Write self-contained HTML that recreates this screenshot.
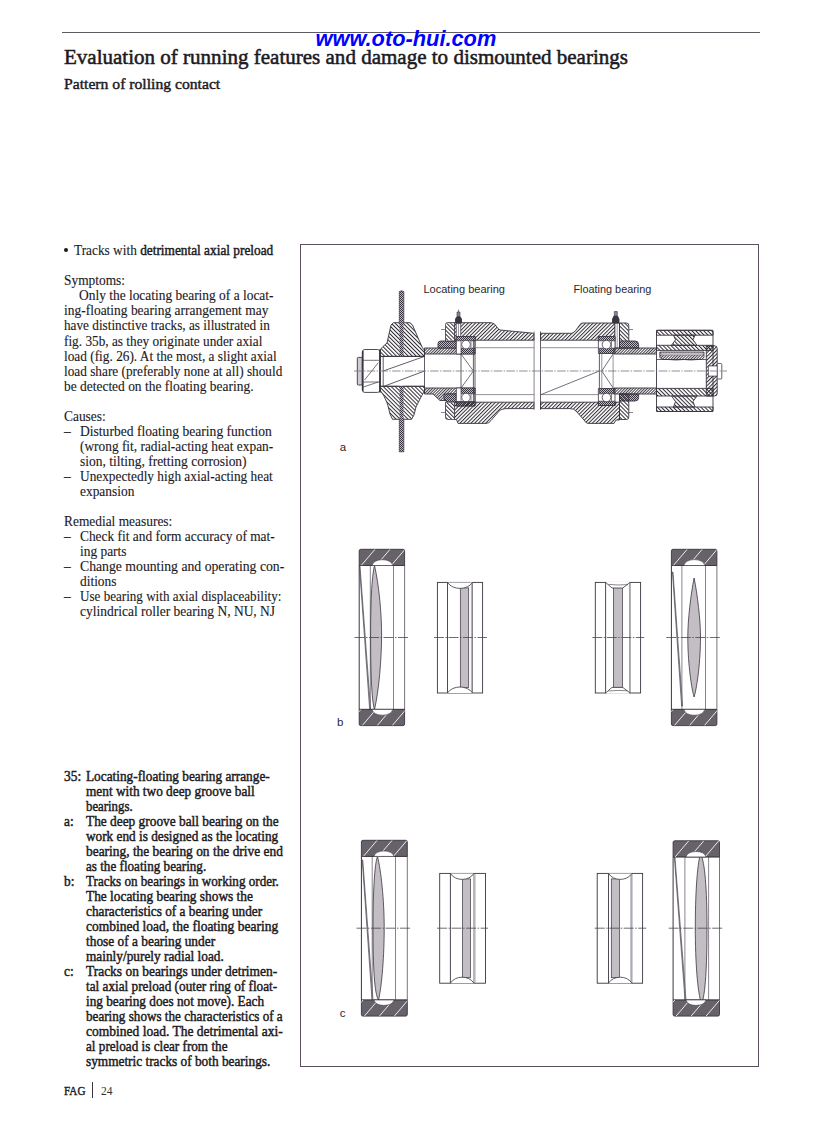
<!DOCTYPE html>
<html><head><meta charset="utf-8"><title>Evaluation of running features</title>
<style>
html,body{margin:0;padding:0;background:#fff;}
body{width:816px;height:1123px;position:relative;overflow:hidden;font-family:"Liberation Serif",serif;color:#1c1a1e;}
.r,.b,.t{position:absolute;white-space:nowrap;line-height:1;transform-origin:0 0;}
.r{font-size:14.0px;}
.r b{font-weight:normal;-webkit-text-stroke:0.45px #1c1a1e;}
.r{-webkit-text-stroke:0.12px #1c1a1e;}
.b{font-size:14.0px;font-weight:normal;-webkit-text-stroke:0.45px #1c1a1e;}
.rule{position:absolute;left:62px;top:32px;width:698px;height:1px;background:#5e5a62;}
.wm{position:absolute;left:315.5px;top:27.85px;font-family:"Liberation Sans",sans-serif;font-weight:bold;font-style:italic;font-size:21.8px;line-height:1;color:#0000ff;white-space:nowrap;}
.box{position:absolute;left:300px;top:244px;width:457px;height:821px;border:1px solid #5a4f60;}
.sans{font-family:"Liberation Sans",sans-serif;}
svg{position:absolute;left:0;top:0;}
</style></head>
<body>
<div class="rule"></div>
<div class="t" style="left:64.3px;top:45.88px;font-size:22px;-webkit-text-stroke:0.55px #1c1a1e;transform:scaleX(0.9556)">Evaluation of running features and damage to dismounted bearings</div>
<div class="t" style="left:64.3px;top:75.62px;font-size:15.5px;-webkit-text-stroke:0.45px #1c1a1e;transform:scaleX(1.011)">Pattern of rolling contact</div>
<div class="box"></div>
<div style="position:absolute;left:64.2px;top:247.9px;width:3.8px;height:3.8px;border-radius:50%;background:#1c1a1e"></div>
<div class="r" style="left:73.8px;top:244.28px;transform:scaleX(0.9515)">Tracks with <b>detrimental axial preload</b></div>
<div class="r" style="left:64.0px;top:274.35px;transform:scaleX(0.957)">Symptoms:</div>
<div class="r" style="left:79.3px;top:289.39px;transform:scaleX(0.9584)">Only the locating bearing of a locat-</div>
<div class="r" style="left:64.0px;top:304.43px;transform:scaleX(0.9612)">ing-floating bearing arrangement may</div>
<div class="r" style="left:64.0px;top:319.47px;transform:scaleX(0.9453)">have distinctive tracks, as illustrated in</div>
<div class="r" style="left:64.0px;top:334.51px;transform:scaleX(0.9485)">fig. 35b, as they originate under axial</div>
<div class="r" style="left:64.0px;top:349.55px;transform:scaleX(0.9509)">load (fig. 26). At the most, a slight axial</div>
<div class="r" style="left:64.0px;top:364.59px;transform:scaleX(0.9486)">load share (preferably none at all) should</div>
<div class="r" style="left:64.0px;top:379.63px;transform:scaleX(0.9596)">be detected on the floating bearing.</div>
<div class="r" style="left:64.0px;top:409.71px;transform:scaleX(0.957)">Causes:</div>
<div class="r" style="left:64.0px;top:424.75px;transform:scaleX(0.957)">–</div>
<div class="r" style="left:79.7px;top:424.75px;transform:scaleX(0.9691)">Disturbed floating bearing function</div>
<div class="r" style="left:79.7px;top:439.79px;transform:scaleX(0.9539)">(wrong fit, radial-acting heat expan-</div>
<div class="r" style="left:79.7px;top:454.83px;transform:scaleX(0.9628)">sion, tilting, fretting corrosion)</div>
<div class="r" style="left:64.0px;top:469.88px;transform:scaleX(0.957)">–</div>
<div class="r" style="left:79.7px;top:469.88px;transform:scaleX(0.9520)">Unexpectedly high axial-acting heat</div>
<div class="r" style="left:79.7px;top:484.91px;transform:scaleX(0.957)">expansion</div>
<div class="r" style="left:64.0px;top:515.00px;transform:scaleX(0.957)">Remedial measures:</div>
<div class="r" style="left:64.0px;top:530.03px;transform:scaleX(0.957)">–</div>
<div class="r" style="left:79.7px;top:530.03px;transform:scaleX(0.9559)">Check fit and form accuracy of mat-</div>
<div class="r" style="left:79.7px;top:545.07px;transform:scaleX(0.957)">ing parts</div>
<div class="r" style="left:64.0px;top:560.11px;transform:scaleX(0.957)">–</div>
<div class="r" style="left:79.7px;top:560.11px;transform:scaleX(0.9803)">Change mounting and operating con-</div>
<div class="r" style="left:79.7px;top:575.15px;transform:scaleX(0.957)">ditions</div>
<div class="r" style="left:64.0px;top:590.19px;transform:scaleX(0.957)">–</div>
<div class="r" style="left:79.7px;top:590.19px;transform:scaleX(0.9350)">Use bearing with axial displaceability:</div>
<div class="r" style="left:79.7px;top:605.24px;transform:scaleX(0.9632)">cylindrical roller bearing N, NU, NJ</div>
<div class="b" style="left:64.0px;top:769.57px;transform:scaleX(0.957)">35:</div>
<div class="b" style="left:85.8px;top:769.57px;transform:scaleX(0.9490)">Locating-floating bearing arrange-</div>
<div class="b" style="left:85.8px;top:784.57px;transform:scaleX(0.9494)">ment with two deep groove ball</div>
<div class="b" style="left:85.8px;top:799.57px;transform:scaleX(0.9148)">bearings.</div>
<div class="b" style="left:64.0px;top:814.57px;transform:scaleX(0.957)">a:</div>
<div class="b" style="left:85.8px;top:814.57px;transform:scaleX(0.9532)">The deep groove ball bearing on the</div>
<div class="b" style="left:85.8px;top:829.57px;transform:scaleX(0.9470)">work end is designed as the locating</div>
<div class="b" style="left:85.8px;top:844.57px;transform:scaleX(0.9574)">bearing, the bearing on the drive end</div>
<div class="b" style="left:85.8px;top:859.57px;transform:scaleX(0.9369)">as the floating bearing.</div>
<div class="b" style="left:64.0px;top:874.57px;transform:scaleX(0.957)">b:</div>
<div class="b" style="left:85.8px;top:874.57px;transform:scaleX(0.9348)">Tracks on bearings in working order.</div>
<div class="b" style="left:85.8px;top:889.57px;transform:scaleX(0.9540)">The locating bearing shows the</div>
<div class="b" style="left:85.8px;top:904.57px;transform:scaleX(0.9478)">characteristics of a bearing under</div>
<div class="b" style="left:85.8px;top:919.57px;transform:scaleX(0.9636)">combined load, the floating bearing</div>
<div class="b" style="left:85.8px;top:934.57px;transform:scaleX(0.9542)">those of a bearing under</div>
<div class="b" style="left:85.8px;top:949.57px;transform:scaleX(0.9502)">mainly/purely radial load.</div>
<div class="b" style="left:64.0px;top:964.57px;transform:scaleX(0.957)">c:</div>
<div class="b" style="left:85.8px;top:964.57px;transform:scaleX(0.9592)">Tracks on bearings under detrimen-</div>
<div class="b" style="left:85.8px;top:979.57px;transform:scaleX(0.9459)">tal axial preload (outer ring of float-</div>
<div class="b" style="left:85.8px;top:994.57px;transform:scaleX(0.9465)">ing bearing does not move). Each</div>
<div class="b" style="left:85.8px;top:1009.57px;transform:scaleX(0.9388)">bearing shows the characteristics of a</div>
<div class="b" style="left:85.8px;top:1024.58px;transform:scaleX(0.9650)">combined load. The detrimental axi-</div>
<div class="b" style="left:85.8px;top:1039.58px;transform:scaleX(0.9406)">al preload is clear from the</div>
<div class="b" style="left:85.8px;top:1054.58px;transform:scaleX(0.9499)">symmetric tracks of both bearings.</div>
<div class="t" style="left:64px;top:1084.31px;font-size:13px;-webkit-text-stroke:0.4px #1c1a1e;transform:scaleX(0.856)">FAG</div>
<div style="position:absolute;left:92px;top:1081.5px;width:1px;height:16px;background:#3a3440"></div>
<div class="t" style="left:100.5px;top:1084.31px;font-size:13px;color:#333;transform:scaleX(0.885)">24</div>
<svg width="816" height="1123" viewBox="0 0 816 1123" style="position:absolute;left:0;top:0">
<defs>
<pattern id="hs" width="2.6" height="2.6" patternUnits="userSpaceOnUse" patternTransform="rotate(45)"><rect x="0" y="0" width="1.0" height="2.6" fill="#2e2a32"/></pattern>
<pattern id="hb" width="2.8" height="2.8" patternUnits="userSpaceOnUse" patternTransform="rotate(-45)"><rect x="0" y="0" width="1.0" height="2.8" fill="#2e2a32"/></pattern>
<pattern id="hf" width="2.0" height="2.0" patternUnits="userSpaceOnUse" patternTransform="rotate(45)"><rect x="0" y="0" width="0.9" height="2.0" fill="#2e2a32"/></pattern>
<pattern id="hx" width="2" height="2" patternUnits="userSpaceOnUse"><rect width="2" height="2" fill="#bdb9c0"/><rect width="1" height="1" fill="#3a3440"/><rect x="1" y="1" width="1" height="1" fill="#3a3440"/></pattern>
</defs>
<g id="figA" stroke="#3a3440" stroke-width="0.9" stroke-linejoin="round">
<!-- left pulley hub -->
<path d="M380,356.4 L380,350 L383,346.5 L387,343 L391,325 L393.5,322.7 L410,322.7 L412.5,325 L422,347 L424.5,350.5 L424.5,356.4 Z" fill="url(#hb)"/>
<path d="M380,386.3 L380,390 L384,396 L387.5,404 L390,414 L392.5,419.3 L411.5,419.3 L414,415 L416,407 L421,397 L424.5,391 L424.5,386.3 Z" fill="url(#hb)"/>
<!-- disc -->
<rect x="399.4" y="356.4" width="4" height="29.9" fill="#fff" stroke="none"/>
<path d="M399.3,322.7 L399.3,291.5 L401.5,290.7 L403.8,291.5 L403.8,322.7" fill="url(#hx)" stroke-width="0.7"/>
<rect x="399.6" y="322.7" width="3.9" height="33.7" fill="url(#hx)" stroke="none"/>
<rect x="399.6" y="386.3" width="3.9" height="33" fill="url(#hx)" stroke="none"/>
<path d="M399.3,419.3 L399.3,451.8 L403.8,451.8 L403.8,419.3" fill="url(#hx)" stroke-width="0.7"/>
<!-- nut & bolt plate -->
<rect x="357.3" y="357.4" width="5" height="27.6" rx="1" fill="#cfccd2"/>
<rect x="362.3" y="349.5" width="17.7" height="42.9" rx="2.5" fill="#fff"/>
<line x1="362.3" y1="360.3" x2="380" y2="360.3" stroke-width="0.7"/>
<line x1="362.3" y1="382" x2="380" y2="382" stroke-width="0.7"/>
<line x1="364.6" y1="380" x2="378.3" y2="362.7" stroke-width="0.7"/>
<line x1="363.5" y1="387" x2="378.3" y2="382" stroke-width="0.7"/>
<line x1="362.8" y1="351" x2="362.8" y2="391" stroke-width="1.6"/>
<line x1="380" y1="349.5" x2="380" y2="392.4" stroke-width="1.8"/>
<!-- shaft in hub -->
<line x1="380" y1="356.4" x2="424.5" y2="356.4"/>
<line x1="380" y1="386.3" x2="424.5" y2="386.3"/>
<line x1="383.2" y1="356.4" x2="383.2" y2="386.3" stroke-width="0.8"/>
<line x1="383.2" y1="371" x2="424.5" y2="356.4" stroke-width="0.8"/>
<line x1="384" y1="386.3" x2="424.5" y2="371" stroke-width="0.8"/>
<!-- sleeves locating side -->
<rect x="424.5" y="348" width="36.5" height="6" fill="url(#hf)"/>
<path d="M424.5,388 L461,388 L461,394 L447,394 L447,400.5 L440,400.5 L433,394 L424.5,394 Z" fill="url(#hf)"/>
<line x1="424.5" y1="348" x2="424.5" y2="394" stroke-width="0.8"/>
<!-- seals locating -->
<path d="M438,348 L438,343.5 Q438,341 441,341 L456.3,341 L456.3,348 Z" fill="url(#hx)"/>
<path d="M444,394 L456.3,394 L456.3,402.2 L447,402.2 L444,399 Z" fill="url(#hx)"/>
<!-- locating housing upper -->
<path d="M445.5,341 L445.5,324.5 Q445.5,322.7 447.5,322.7 L491.5,322.7 Q495,323.2 497.5,328 L500,330 L534,333.3 L534,340.2 L475,340.2 L475,336.5 L456.3,336.5 L456.3,341 Z" fill="url(#hs)"/>
<rect x="445.9" y="323.2" width="8.6" height="17.4" fill="#fff" stroke="none"/><rect x="445.9" y="323.2" width="8.6" height="17.4" fill="url(#hb)" stroke="none"/>
<line x1="454.5" y1="323" x2="454.5" y2="341" stroke-width="0.8"/>
<!-- grease nipple locating -->
<rect x="456.3" y="323.2" width="4.4" height="13.3" fill="#fff" stroke-width="0.7"/>
<line x1="458.5" y1="323.2" x2="458.5" y2="336.5" stroke-width="0.5"/>
<path d="M455.5,323 L455.5,319 L457,316.5 L460,316.5 L461.5,319 L461.5,323 Z" fill="#3a3440"/>
<rect x="457" y="312" width="3" height="4.5" fill="#8a8590" stroke-width="0.6"/>
<line x1="458.5" y1="309.5" x2="458.5" y2="312" stroke-width="0.6"/>
<line x1="441" y1="329.5" x2="445.5" y2="329.5" stroke-width="0.6"/>
<!-- locating bearing -->
<rect x="456.3" y="336.5" width="18.7" height="17.5" fill="#fff" stroke-width="0.8"/>
<rect x="456.3" y="336.5" width="18.7" height="4.3" fill="url(#hx)" stroke-width="0.7"/>
<rect x="461" y="348.2" width="14" height="5.8" fill="url(#hx)" stroke-width="0.7"/>
<line x1="461" y1="340.8" x2="461" y2="348.2" stroke-width="0.6"/>
<line x1="471" y1="340.8" x2="471" y2="348.2" stroke-width="0.6"/>
<circle cx="466" cy="344.6" r="4.3" fill="#fff" stroke-width="0.8"/>
<rect x="456.3" y="388" width="18.7" height="18" fill="#fff" stroke-width="0.8"/>
<rect x="461" y="388" width="14" height="5.8" fill="url(#hx)" stroke-width="0.7"/>
<rect x="456.3" y="401.5" width="18.7" height="4.5" fill="url(#hx)" stroke-width="0.7"/>
<line x1="461" y1="393.8" x2="461" y2="401.5" stroke-width="0.6"/>
<line x1="471" y1="393.8" x2="471" y2="401.5" stroke-width="0.6"/>
<circle cx="466" cy="397.5" r="4.3" fill="#fff" stroke-width="0.8"/>
<!-- locating housing lower -->
<path d="M445.5,402.2 L534,402.2 L534,408.6 L505,408.6 Q499.5,409 497.5,413 L491,420.5 Q489,423.4 486,423.4 L458,423.4 L456.5,419.5 L447.5,419.5 Q445.5,419.5 445.5,417.5 Z" fill="url(#hs)"/>
<rect x="445.9" y="402.6" width="8.6" height="16.6" fill="#fff" stroke="none"/><rect x="445.9" y="402.6" width="8.6" height="16.6" fill="url(#hb)" stroke="none"/>
<line x1="454.5" y1="402.2" x2="454.5" y2="419.5" stroke-width="0.8"/>
<line x1="441" y1="412.5" x2="445.5" y2="412.5" stroke-width="0.6"/>
<!-- shaft lines through bearing -->
<line x1="461" y1="354" x2="461" y2="388" stroke-width="0.8"/>
<line x1="473.4" y1="340.2" x2="473.4" y2="402.2" stroke-width="0.8"/>
<line x1="475" y1="340.2" x2="475" y2="402.2" stroke-width="0.8"/>
<polyline points="461,354 473.4,371 461,388" fill="none" stroke-width="0.7"/>
<line x1="475" y1="347.7" x2="534" y2="347.7" stroke="#7a7480" stroke-width="0.8"/>
<line x1="475" y1="394.6" x2="534" y2="394.6" stroke="#7a7480" stroke-width="0.8"/>
<!-- break -->
<line x1="534.1" y1="331.4" x2="534.1" y2="409.9" stroke="#6a6470" stroke-width="0.8"/>
<line x1="540.5" y1="331.4" x2="540.5" y2="409.9" stroke-width="0.8"/>
<!-- floating side shaft lines -->
<line x1="540.5" y1="347.7" x2="599.4" y2="347.7" stroke="#7a7480" stroke-width="0.8"/>
<line x1="540.5" y1="394.6" x2="599.4" y2="394.6" stroke="#7a7480" stroke-width="0.8"/>
<line x1="541" y1="394.6" x2="599.4" y2="371" stroke-width="0.7"/>
<!-- floating housing upper -->
<path d="M540.5,333.3 L572,333.3 Q575.5,332 577.5,328 L580,324.5 Q581,323 583,323 L615,323 L615,336.5 L598.4,336.5 L598.4,340.2 L540.5,340.2 Z" fill="url(#hs)"/>
<rect x="615" y="323" width="4.5" height="25" fill="#fff" stroke-width="0.7"/>
<line x1="617.2" y1="323" x2="617.2" y2="348" stroke-width="0.5"/>
<path d="M619.5,323 L626.5,323 Q628.8,323 628.8,325.5 L628.8,348 L619.5,348 Z" fill="url(#hb)"/>
<path d="M612.5,323 L612.5,319 L614,316 L617.5,316 L619,319 L619,323 Z" fill="#3a3440"/>
<rect x="614.3" y="311.5" width="3" height="4.5" fill="#8a8590" stroke-width="0.6"/>
<line x1="628.8" y1="329.5" x2="633" y2="329.5" stroke-width="0.6"/>
<!-- floating bearing -->
<rect x="598.4" y="336.5" width="16.6" height="17" fill="#fff" stroke-width="0.8"/>
<rect x="598.4" y="336.5" width="16.6" height="4.3" fill="url(#hx)" stroke-width="0.7"/>
<rect x="599.4" y="348.2" width="14.6" height="5.3" fill="url(#hx)" stroke-width="0.7"/>
<line x1="611.5" y1="340.8" x2="611.5" y2="348.2" stroke-width="0.6"/>
<circle cx="606.5" cy="344.6" r="4.3" fill="#fff" stroke-width="0.8"/>
<rect x="598.4" y="388.5" width="16.6" height="17" fill="#fff" stroke-width="0.8"/>
<rect x="599.4" y="388.5" width="14.6" height="5.3" fill="url(#hx)" stroke-width="0.7"/>
<rect x="598.4" y="401.2" width="16.6" height="4.3" fill="url(#hx)" stroke-width="0.7"/>
<line x1="611.5" y1="393.8" x2="611.5" y2="401.2" stroke-width="0.6"/>
<circle cx="606.5" cy="397.5" r="4.3" fill="#fff" stroke-width="0.8"/>
<path d="M619.5,341 L635,341 Q638.6,341 638.6,344.5 L638.6,348 L619.5,348 Z" fill="url(#hx)"/>
<path d="M619.5,394 L638.6,394 L638.6,397.5 Q638.6,401 635,401 L619.5,401 Z" fill="url(#hx)"/>
<!-- floating housing lower -->
<path d="M540.5,402.2 L598.4,402.2 L598.4,405.5 L615,405.5 L615,402.2 L619.5,402.2 L619.5,420 L616,420 L614,423.4 L588,423.4 Q585.5,423 584,420 L576,411 Q574,408.6 570,408.6 L540.5,408.6 Z" fill="url(#hs)"/>
<path d="M619.5,394 L628.8,394 L628.8,417 Q628.8,419.5 626.5,419.5 L619.5,419.5 Z" fill="url(#hb)"/>
<line x1="628.8" y1="412.5" x2="633" y2="412.5" stroke-width="0.6"/>
<!-- floating shaft lines -->
<line x1="599.4" y1="353.5" x2="599.4" y2="388.5" stroke-width="0.8"/>
<line x1="601.8" y1="353.5" x2="601.8" y2="388.5" stroke="#6a6470" stroke-width="0.7"/>
<line x1="613.1" y1="353.5" x2="613.1" y2="388.5" stroke="#6a6470" stroke-width="0.7"/>
<polyline points="613.1,354 601.8,371 613.1,388" fill="none" stroke-width="0.7"/>
<!-- sleeves floating side -->
<rect x="614" y="348" width="42.5" height="6" fill="url(#hf)"/>
<rect x="614" y="388" width="42.5" height="6" fill="url(#hf)"/>
<!-- right pulley -->
<rect x="656.5" y="330.3" width="56.5" height="81.2" rx="2" fill="#fff"/>
<rect x="656.5" y="330.3" width="56.5" height="4.9" fill="url(#hb)"/>
<path d="M673.5,335.2 L695,335.2 L693,339.8 L697,345.3 L671.5,345.3 L675.5,339.8 Z" fill="url(#hb)"/>
<rect x="656.5" y="345.3" width="56.5" height="5.1" fill="url(#hb)"/>
<path d="M659.8,352 L704,352 L704,357.5 Q702,360.2 698,359.5 Q690,360.5 684,359.5 Q676,360.5 668,359.5 Q662,360.5 659.8,357.5 Z" fill="url(#hf)" stroke-width="0.8"/>
<rect x="661" y="352.6" width="42" height="2.6" fill="#c9c5cc" stroke="#6a6470" stroke-width="0.5"/>
<rect x="656.5" y="388.4" width="56.5" height="7.6" fill="url(#hb)"/>
<path d="M671.5,396 L697,396 L693,401.5 L695,407 L673.5,407 L675.5,401.5 Z" fill="url(#hb)"/>
<rect x="656.5" y="407" width="56.5" height="4.5" fill="url(#hb)"/>
<line x1="656.5" y1="359.5" x2="706.3" y2="359.5" stroke-width="0.8"/>
<!-- end cap + bolt -->
<path d="M706.3,345.8 L714.5,345.8 Q717.2,345.8 717.2,348.5 L717.2,393.5 Q717.2,396 714.5,396 L706.3,396 Z" fill="url(#hs)"/>
<rect x="717.2" y="363.5" width="4.6" height="15.5" rx="1" fill="#fff" stroke-width="0.8"/>
<line x1="708" y1="366" x2="717.2" y2="366" stroke-width="0.6"/>
<line x1="708" y1="376" x2="717.2" y2="376" stroke-width="0.6"/>
<rect x="708.5" y="366" width="8.7" height="10" fill="#fff" stroke-width="0.6"/>
<!-- centre line -->
<line x1="354" y1="371" x2="727" y2="371" stroke="#7e7884" stroke-width="0.85" stroke-dasharray="8.5,1.4,1.4,1.4"/>
</g>

<line x1="359.2" y1="565.5" x2="359.2" y2="709.4" stroke="#3a3440" stroke-width="1"/>
<line x1="404.6" y1="565.5" x2="404.6" y2="709.4" stroke="#6a6470" stroke-width="0.9"/>
<line x1="370.3" y1="565.5" x2="370.3" y2="709.4" stroke="#6a6470" stroke-width="0.8"/>
<line x1="393.5" y1="565.5" x2="393.5" y2="709.4" stroke="#6a6470" stroke-width="0.8"/>
<line x1="359.2" y1="565.5" x2="404.6" y2="565.5" stroke="#3a3440" stroke-width="0.8"/>
<line x1="359.2" y1="709.4" x2="404.6" y2="709.4" stroke="#3a3440" stroke-width="0.8"/>
<path d="M359.4,566 L369.6,709 L370.6,709 L360.0,566 Z" fill="#b8b5ba" stroke="#3a3440" stroke-width="0.6"/>
<path d="M374.5,565.5 C379,585 381.8,615 381.6,637 C381.4,660 379,690 374.5,709.5 C371.5,700 370.6,670 370.6,637 C370.6,605 371.5,578 374.5,565.5 Z" fill="#c2bec4" stroke="#3a3440" stroke-width="0.8"/>
<clipPath id="clipblt"><path d="M359.2,565.5 L359.2,550.9 Q359.2,549.3 360.8,549.3 L403.0,549.3 Q404.6,549.3 404.6,550.9 L404.6,565.5 Z"/></clipPath>
<path d="M359.2,565.5 L359.2,550.9 Q359.2,549.3 360.8,549.3 L403.0,549.3 Q404.6,549.3 404.6,550.9 L404.6,565.5 Z" fill="#67616a" stroke="#3a3440" stroke-width="0.9"/>
<line x1="361.2" y1="565.5" x2="375.0" y2="549.3" stroke="#eceaee" stroke-width="1" clip-path="url(#clipblt)"/>
<line x1="376.2" y1="565.5" x2="390.0" y2="549.3" stroke="#eceaee" stroke-width="1" clip-path="url(#clipblt)"/>
<line x1="391.2" y1="565.5" x2="405.0" y2="549.3" stroke="#eceaee" stroke-width="1" clip-path="url(#clipblt)"/>
<line x1="406.2" y1="565.5" x2="420.0" y2="549.3" stroke="#eceaee" stroke-width="1" clip-path="url(#clipblt)"/>
<path d="M372.0,565.5 C373.248,557.77 391.552,557.77 392.8,565.5 Z" fill="#fff" stroke="#3a3440" stroke-width="0.6"/>
<clipPath id="clipblb"><path d="M359.2,709.4 L359.2,724.0 Q359.2,725.6 360.8,725.6 L403.0,725.6 Q404.6,725.6 404.6,724.0 L404.6,709.4 Z"/></clipPath>
<path d="M359.2,709.4 L359.2,724.0 Q359.2,725.6 360.8,725.6 L403.0,725.6 Q404.6,725.6 404.6,724.0 L404.6,709.4 Z" fill="#67616a" stroke="#3a3440" stroke-width="0.9"/>
<line x1="347.2" y1="725.6" x2="361.0" y2="709.4" stroke="#eceaee" stroke-width="1" clip-path="url(#clipblb)"/>
<line x1="362.2" y1="725.6" x2="376.0" y2="709.4" stroke="#eceaee" stroke-width="1" clip-path="url(#clipblb)"/>
<line x1="377.2" y1="725.6" x2="391.0" y2="709.4" stroke="#eceaee" stroke-width="1" clip-path="url(#clipblb)"/>
<line x1="392.2" y1="725.6" x2="406.0" y2="709.4" stroke="#eceaee" stroke-width="1" clip-path="url(#clipblb)"/>
<path d="M372.0,709.4 C373.248,717.13 391.552,717.13 392.8,709.4 Z" fill="#fff" stroke="#3a3440" stroke-width="0.6"/>
<line x1="354.5" y1="637.5" x2="408.4" y2="637.5" stroke="#4a4450" stroke-width="0.8" stroke-dasharray="10,1.5,1.5,1.5"/>
<rect x="437.4" y="582.4" width="45.200000000000045" height="110.60000000000002" fill="#fff" stroke="#3a3440" stroke-width="0.9"/>
<line x1="447.5" y1="582.4" x2="447.5" y2="693.0" stroke="#3a3440" stroke-width="0.9"/>
<line x1="472.5" y1="582.4" x2="472.5" y2="693.0" stroke="#6a6470" stroke-width="0.8"/>
<line x1="471.4" y1="582.4" x2="471.4" y2="693.0" stroke="#8a8590" stroke-width="0.7"/>
<rect x="460.3" y="587.9" width="8.399999999999977" height="99.60000000000002" fill="#c2bec4" stroke="#3a3440" stroke-width="0.7"/>
<path d="M447.5,582.4 C452.5,590.398 467.5,590.398 472.5,582.4" fill="#fff" stroke="#3a3440" stroke-width="0.8"/>
<path d="M447.5,693.0 C452.5,685.002 467.5,685.002 472.5,693.0" fill="#fff" stroke="#3a3440" stroke-width="0.8"/>
<line x1="434" y1="637.5" x2="487" y2="637.5" stroke="#4a4450" stroke-width="0.8" stroke-dasharray="10,1.5,1.5,1.5"/>
<rect x="595.3" y="582.4" width="45.30000000000007" height="110.60000000000002" fill="#fff" stroke="#3a3440" stroke-width="0.9"/>
<line x1="605.6" y1="582.4" x2="605.6" y2="693.0" stroke="#3a3440" stroke-width="0.9"/>
<line x1="630.1" y1="582.4" x2="630.1" y2="693.0" stroke="#6a6470" stroke-width="0.8"/>
<line x1="629.6" y1="582.4" x2="629.6" y2="693.0" stroke="#8a8590" stroke-width="0.7"/>
<rect x="613.4" y="587.5" width="9.0" height="100.40000000000002" fill="#c2bec4" stroke="#3a3440" stroke-width="0.7"/>
<line x1="606.2" y1="582.4" x2="629.5" y2="582.4" stroke="#fff" stroke-width="1.4"/>
<line x1="606.2" y1="693.0" x2="629.5" y2="693.0" stroke="#fff" stroke-width="1.4"/>
<path d="M605.6,582.4 L611.97,588.0 L622.75,588.0 L630.1,582.4" fill="#fff" stroke="#3a3440" stroke-width="0.8"/>
<path d="M608.5400000000001,584.36 Q617.85,585.48 627.65,584.64" fill="none" stroke="#3a3440" stroke-width="0.6"/>
<path d="M605.6,693.0 L611.97,687.4 L622.75,687.4 L630.1,693.0" fill="#fff" stroke="#3a3440" stroke-width="0.8"/>
<path d="M608.5400000000001,691.04 Q617.85,689.92 627.65,690.76" fill="none" stroke="#3a3440" stroke-width="0.6"/>
<line x1="592.3" y1="637.5" x2="644.2" y2="637.5" stroke="#4a4450" stroke-width="0.8" stroke-dasharray="10,1.5,1.5,1.5"/>
<line x1="671.4" y1="565.5" x2="671.4" y2="709.4" stroke="#3a3440" stroke-width="1"/>
<line x1="716.9" y1="565.5" x2="716.9" y2="709.4" stroke="#6a6470" stroke-width="0.9"/>
<line x1="681.9" y1="565.5" x2="681.9" y2="709.4" stroke="#6a6470" stroke-width="0.8"/>
<line x1="705.5" y1="565.5" x2="705.5" y2="709.4" stroke="#6a6470" stroke-width="0.8"/>
<line x1="671.4" y1="565.5" x2="716.9" y2="565.5" stroke="#3a3440" stroke-width="0.8"/>
<line x1="671.4" y1="709.4" x2="716.9" y2="709.4" stroke="#3a3440" stroke-width="0.8"/>
<path d="M672.4,572 L681.6,706 L682.6,706 L673.0,572 Z" fill="#b8b5ba" stroke="#3a3440" stroke-width="0.6"/>
<path d="M694.1,578 C697.5,595 700.5,620 700.5,637 C700.5,660 697.5,685 694.1,697 C690.7,685 687.8,660 687.8,637 C687.8,620 690.7,595 694.1,578 Z" fill="#c2bec4" stroke="#3a3440" stroke-width="0.8"/>
<clipPath id="clipbrt"><path d="M671.4,565.5 L671.4,550.9 Q671.4,549.3 673.0,549.3 L715.3,549.3 Q716.9,549.3 716.9,550.9 L716.9,565.5 Z"/></clipPath>
<path d="M671.4,565.5 L671.4,550.9 Q671.4,549.3 673.0,549.3 L715.3,549.3 Q716.9,549.3 716.9,550.9 L716.9,565.5 Z" fill="#67616a" stroke="#3a3440" stroke-width="0.9"/>
<line x1="673.4" y1="565.5" x2="687.2" y2="549.3" stroke="#eceaee" stroke-width="1" clip-path="url(#clipbrt)"/>
<line x1="688.4" y1="565.5" x2="702.2" y2="549.3" stroke="#eceaee" stroke-width="1" clip-path="url(#clipbrt)"/>
<line x1="703.4" y1="565.5" x2="717.2" y2="549.3" stroke="#eceaee" stroke-width="1" clip-path="url(#clipbrt)"/>
<line x1="718.4" y1="565.5" x2="732.2" y2="549.3" stroke="#eceaee" stroke-width="1" clip-path="url(#clipbrt)"/>
<path d="M683.9,565.5 C685.154,557.64 703.5459999999999,557.64 704.8,565.5 Z" fill="#fff" stroke="#3a3440" stroke-width="0.6"/>
<clipPath id="clipbrb"><path d="M671.4,709.4 L671.4,724.0 Q671.4,725.6 673.0,725.6 L715.3,725.6 Q716.9,725.6 716.9,724.0 L716.9,709.4 Z"/></clipPath>
<path d="M671.4,709.4 L671.4,724.0 Q671.4,725.6 673.0,725.6 L715.3,725.6 Q716.9,725.6 716.9,724.0 L716.9,709.4 Z" fill="#67616a" stroke="#3a3440" stroke-width="0.9"/>
<line x1="659.4" y1="725.6" x2="673.2" y2="709.4" stroke="#eceaee" stroke-width="1" clip-path="url(#clipbrb)"/>
<line x1="674.4" y1="725.6" x2="688.2" y2="709.4" stroke="#eceaee" stroke-width="1" clip-path="url(#clipbrb)"/>
<line x1="689.4" y1="725.6" x2="703.2" y2="709.4" stroke="#eceaee" stroke-width="1" clip-path="url(#clipbrb)"/>
<line x1="704.4" y1="725.6" x2="718.2" y2="709.4" stroke="#eceaee" stroke-width="1" clip-path="url(#clipbrb)"/>
<path d="M683.9,709.4 C685.154,717.26 703.5459999999999,717.26 704.8,709.4 Z" fill="#fff" stroke="#3a3440" stroke-width="0.6"/>
<line x1="666.3" y1="637.5" x2="720.9" y2="637.5" stroke="#4a4450" stroke-width="0.8" stroke-dasharray="10,1.5,1.5,1.5"/>
<line x1="361.4" y1="856.4" x2="361.4" y2="1000.0" stroke="#3a3440" stroke-width="1"/>
<line x1="407.3" y1="856.4" x2="407.3" y2="1000.0" stroke="#6a6470" stroke-width="0.9"/>
<line x1="372.2" y1="856.4" x2="372.2" y2="1000.0" stroke="#6a6470" stroke-width="0.8"/>
<line x1="395.5" y1="856.4" x2="395.5" y2="1000.0" stroke="#6a6470" stroke-width="0.8"/>
<line x1="361.4" y1="856.4" x2="407.3" y2="856.4" stroke="#3a3440" stroke-width="0.8"/>
<line x1="361.4" y1="1000.0" x2="407.3" y2="1000.0" stroke="#3a3440" stroke-width="0.8"/>
<path d="M362.2,860 L372.0,1000 L373.0,1000 L362.8,860 Z" fill="#b8b5ba" stroke="#3a3440" stroke-width="0.6"/>
<path d="M377.5,856.5 C381,870 384.2,900 384.2,928 C384.2,955 382,985 378.5,1000 C374.5,994 373,968 373,928 C373,892 374.5,864 377.5,856.5 Z" fill="#c2bec4" stroke="#3a3440" stroke-width="0.8"/>
<clipPath id="clipclt"><path d="M361.4,856.4 L361.4,841.9 Q361.4,840.3 363.0,840.3 L405.7,840.3 Q407.3,840.3 407.3,841.9 L407.3,856.4 Z"/></clipPath>
<path d="M361.4,856.4 L361.4,841.9 Q361.4,840.3 363.0,840.3 L405.7,840.3 Q407.3,840.3 407.3,841.9 L407.3,856.4 Z" fill="#67616a" stroke="#3a3440" stroke-width="0.9"/>
<line x1="363.4" y1="856.4" x2="377.1" y2="840.3" stroke="#eceaee" stroke-width="1" clip-path="url(#clipclt)"/>
<line x1="378.4" y1="856.4" x2="392.1" y2="840.3" stroke="#eceaee" stroke-width="1" clip-path="url(#clipclt)"/>
<line x1="393.4" y1="856.4" x2="407.1" y2="840.3" stroke="#eceaee" stroke-width="1" clip-path="url(#clipclt)"/>
<line x1="408.4" y1="856.4" x2="422.1" y2="840.3" stroke="#eceaee" stroke-width="1" clip-path="url(#clipclt)"/>
<path d="M373.9,856.4 C375.106,849.20 392.794,849.20 394.0,856.4 Z" fill="#fff" stroke="#3a3440" stroke-width="0.6"/>
<clipPath id="clipclb"><path d="M361.4,1000.0 L361.4,1014.5 Q361.4,1016.1 363.0,1016.1 L405.7,1016.1 Q407.3,1016.1 407.3,1014.5 L407.3,1000.0 Z"/></clipPath>
<path d="M361.4,1000.0 L361.4,1014.5 Q361.4,1016.1 363.0,1016.1 L405.7,1016.1 Q407.3,1016.1 407.3,1014.5 L407.3,1000.0 Z" fill="#67616a" stroke="#3a3440" stroke-width="0.9"/>
<line x1="349.4" y1="1016.1" x2="363.1" y2="1000.0" stroke="#eceaee" stroke-width="1" clip-path="url(#clipclb)"/>
<line x1="364.4" y1="1016.1" x2="378.1" y2="1000.0" stroke="#eceaee" stroke-width="1" clip-path="url(#clipclb)"/>
<line x1="379.4" y1="1016.1" x2="393.1" y2="1000.0" stroke="#eceaee" stroke-width="1" clip-path="url(#clipclb)"/>
<line x1="394.4" y1="1016.1" x2="408.1" y2="1000.0" stroke="#eceaee" stroke-width="1" clip-path="url(#clipclb)"/>
<path d="M373.9,1000.0 C375.106,1007.20 392.794,1007.20 394.0,1000.0 Z" fill="#fff" stroke="#3a3440" stroke-width="0.6"/>
<line x1="356.5" y1="928.2" x2="410.9" y2="928.2" stroke="#4a4450" stroke-width="0.8" stroke-dasharray="10,1.5,1.5,1.5"/>
<rect x="439.7" y="873.4" width="45.80000000000001" height="109.80000000000007" fill="#fff" stroke="#3a3440" stroke-width="0.9"/>
<line x1="450.4" y1="873.4" x2="450.4" y2="983.2" stroke="#3a3440" stroke-width="0.9"/>
<line x1="473.9" y1="873.4" x2="473.9" y2="983.2" stroke="#6a6470" stroke-width="0.8"/>
<line x1="475.0" y1="873.4" x2="475.0" y2="983.2" stroke="#8a8590" stroke-width="0.7"/>
<rect x="462.5" y="878.9" width="8.100000000000023" height="98.80000000000007" fill="#c2bec4" stroke="#3a3440" stroke-width="0.7"/>
<path d="M450.4,873.4 C455.09999999999997,881.398 469.2,881.398 473.9,873.4" fill="#fff" stroke="#3a3440" stroke-width="0.8"/>
<path d="M450.4,983.2 C455.09999999999997,975.202 469.2,975.202 473.9,983.2" fill="#fff" stroke="#3a3440" stroke-width="0.8"/>
<line x1="437.1" y1="928.2" x2="488.1" y2="928.2" stroke="#4a4450" stroke-width="0.8" stroke-dasharray="10,1.5,1.5,1.5"/>
<rect x="597.2" y="873.4" width="45.39999999999998" height="109.80000000000007" fill="#fff" stroke="#3a3440" stroke-width="0.9"/>
<line x1="608.5" y1="873.4" x2="608.5" y2="983.2" stroke="#3a3440" stroke-width="0.9"/>
<line x1="631.9" y1="873.4" x2="631.9" y2="983.2" stroke="#6a6470" stroke-width="0.8"/>
<line x1="630.8" y1="873.4" x2="630.8" y2="983.2" stroke="#8a8590" stroke-width="0.7"/>
<rect x="611.3" y="878.9" width="8.100000000000023" height="98.80000000000007" fill="#c2bec4" stroke="#3a3440" stroke-width="0.7"/>
<path d="M608.5,873.4 C613.18,881.398 627.22,881.398 631.9,873.4" fill="#fff" stroke="#3a3440" stroke-width="0.8"/>
<path d="M608.5,983.2 C613.18,975.202 627.22,975.202 631.9,983.2" fill="#fff" stroke="#3a3440" stroke-width="0.8"/>
<line x1="594.7" y1="928.2" x2="646.2" y2="928.2" stroke="#4a4450" stroke-width="0.8" stroke-dasharray="10,1.5,1.5,1.5"/>
<line x1="673.1" y1="856.9" x2="673.1" y2="1000.0" stroke="#3a3440" stroke-width="1"/>
<line x1="719.5" y1="856.9" x2="719.5" y2="1000.0" stroke="#6a6470" stroke-width="0.9"/>
<line x1="684.9" y1="856.9" x2="684.9" y2="1000.0" stroke="#6a6470" stroke-width="0.8"/>
<line x1="708.6" y1="856.9" x2="708.6" y2="1000.0" stroke="#6a6470" stroke-width="0.8"/>
<line x1="673.1" y1="856.9" x2="719.5" y2="856.9" stroke="#3a3440" stroke-width="0.8"/>
<line x1="673.1" y1="1000.0" x2="719.5" y2="1000.0" stroke="#3a3440" stroke-width="0.8"/>
<path d="M674.2,855 L685.0,1000 L686.0,1000 L674.8000000000001,855 Z" fill="#b8b5ba" stroke="#3a3440" stroke-width="0.6"/>
<path d="M700.5,853.5 C705,862 707,890 707,928 C707,965 705.5,995 701.5,1004 C697.5,992 695.3,962 695.3,928 C695.3,895 697,866 700.5,853.5 Z" fill="#c2bec4" stroke="#3a3440" stroke-width="0.8"/>
<clipPath id="clipcrt"><path d="M673.1,856.9 L673.1,842.4 Q673.1,840.8 674.7,840.8 L717.9,840.8 Q719.5,840.8 719.5,842.4 L719.5,856.9 Z"/></clipPath>
<path d="M673.1,856.9 L673.1,842.4 Q673.1,840.8 674.7,840.8 L717.9,840.8 Q719.5,840.8 719.5,842.4 L719.5,856.9 Z" fill="#67616a" stroke="#3a3440" stroke-width="0.9"/>
<line x1="675.1" y1="856.9" x2="688.8" y2="840.8" stroke="#eceaee" stroke-width="1" clip-path="url(#clipcrt)"/>
<line x1="690.1" y1="856.9" x2="703.8" y2="840.8" stroke="#eceaee" stroke-width="1" clip-path="url(#clipcrt)"/>
<line x1="705.1" y1="856.9" x2="718.8" y2="840.8" stroke="#eceaee" stroke-width="1" clip-path="url(#clipcrt)"/>
<line x1="720.1" y1="856.9" x2="733.8" y2="840.8" stroke="#eceaee" stroke-width="1" clip-path="url(#clipcrt)"/>
<path d="M686.0,856.9 C687.2,849.70 704.8,849.70 706.0,856.9 Z" fill="#fff" stroke="#3a3440" stroke-width="0.6"/>
<clipPath id="clipcrb"><path d="M673.1,1000.0 L673.1,1014.5 Q673.1,1016.1 674.7,1016.1 L717.9,1016.1 Q719.5,1016.1 719.5,1014.5 L719.5,1000.0 Z"/></clipPath>
<path d="M673.1,1000.0 L673.1,1014.5 Q673.1,1016.1 674.7,1016.1 L717.9,1016.1 Q719.5,1016.1 719.5,1014.5 L719.5,1000.0 Z" fill="#67616a" stroke="#3a3440" stroke-width="0.9"/>
<line x1="661.1" y1="1016.1" x2="674.8" y2="1000.0" stroke="#eceaee" stroke-width="1" clip-path="url(#clipcrb)"/>
<line x1="676.1" y1="1016.1" x2="689.8" y2="1000.0" stroke="#eceaee" stroke-width="1" clip-path="url(#clipcrb)"/>
<line x1="691.1" y1="1016.1" x2="704.8" y2="1000.0" stroke="#eceaee" stroke-width="1" clip-path="url(#clipcrb)"/>
<line x1="706.1" y1="1016.1" x2="719.8" y2="1000.0" stroke="#eceaee" stroke-width="1" clip-path="url(#clipcrb)"/>
<path d="M686.0,1000.0 C687.2,1007.20 704.8,1007.20 706.0,1000.0 Z" fill="#fff" stroke="#3a3440" stroke-width="0.6"/>
<line x1="668.7" y1="928.2" x2="723.4" y2="928.2" stroke="#4a4450" stroke-width="0.8" stroke-dasharray="10,1.5,1.5,1.5"/>
<g font-family="Liberation Sans, sans-serif" font-size="11.5" fill="#2c2830" stroke="none">
<text x="423.4" y="293.4" textLength="81.6" lengthAdjust="spacingAndGlyphs">Locating bearing</text>
<text x="573.4" y="293.4" textLength="78" lengthAdjust="spacingAndGlyphs">Floating bearing</text>
<text x="339.8" y="451">a</text>
<text x="337" y="726">b</text>
<text x="339.7" y="1017">c</text>
</g>
</svg>
<div class="wm">www.oto-hui.com</div>
</body></html>
